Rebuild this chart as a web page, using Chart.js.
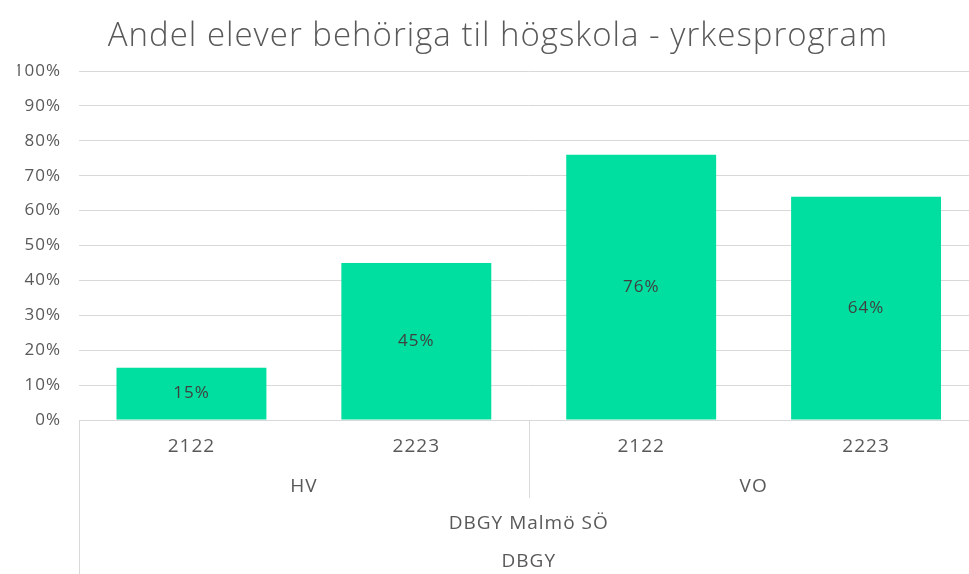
<!DOCTYPE html>
<html>
<head>
<meta charset="utf-8">
<script src="https://cdn.jsdelivr.net/npm/chart.js@4/dist/chart.umd.min.js"></script>
<style>
  html, body { margin: 0; padding: 0; background: #fff; overflow: hidden; }
  #wrap { width: 969px; height: 574px; overflow: hidden; }
  #box { width: 996px; height: 574px; position: relative; }
</style>
</head>
<body>
<div id="wrap"><div id="box"><canvas id="chart"></canvas></div></div>
<script>
// Chart data
const chartTitle = 'Andel elever behöriga til högskola - yrkesprogram';
const years = ['2122', '2223', '2122', '2223'];
const programs = ['HV', 'VO'];
const schools = ['DBGY Malmö SÖ'];
const orgs = ['DBGY'];
const shares = [15, 45, 76, 64];

const FONT = 'Open Sans';
const TEXT = '#595959';
const GRID = '#D9D9D9';

// Century Gothic is wide, so space the letters out a little
const spacing = {
  id: 'spacing',
  beforeDraw(chart) {
    chart.ctx.letterSpacing = '1px';
  }
};

// Draws value labels in the middle of each bar
const barLabels = {
  id: 'barLabels',
  afterDatasetsDraw(chart) {
    const ctx = chart.ctx;
    const meta = chart.getDatasetMeta(0);
    ctx.save();
    ctx.font = '17px "' + FONT + '"';
    ctx.fillStyle = '#404040';
    ctx.textAlign = 'center';
    ctx.textBaseline = 'middle';
    meta.data.forEach((bar, i) => {
      ctx.fillText(shares[i] + '%', bar.x, (bar.y + bar.base) / 2);
    });
    ctx.restore();
  }
};

// Multi-level category axis (year / program / school / org)
const multiAxis = {
  id: 'multiAxis',
  afterDraw(chart) {
    const ctx = chart.ctx;
    const a = chart.chartArea;
    const x = chart.scales.x;
    const w = (a.right - a.left) / years.length;
    const per = years.length / programs.length;
    ctx.save();
    ctx.font = '19px "' + FONT + '"';
    ctx.fillStyle = TEXT;
    ctx.textAlign = 'center';
    ctx.textBaseline = 'middle';
    years.forEach((t, i) => ctx.fillText(t, x.getPixelForValue(i), 447));
    programs.forEach((t, i) => ctx.fillText(t, a.left + w * per * (i + 0.5), 487));
    ctx.fillText(schools[0], (a.left + a.right) / 2, 524);
    ctx.fillText(orgs[0], (a.left + a.right) / 2, 562);

    // separators
    ctx.strokeStyle = GRID;
    ctx.lineWidth = 1;
    ctx.beginPath();
    ctx.moveTo(Math.round(a.left) + 0.5, a.bottom);
    ctx.lineTo(Math.round(a.left) + 0.5, chart.height);
    ctx.moveTo(Math.round(a.right) + 0.5, a.bottom);
    ctx.lineTo(Math.round(a.right) + 0.5, chart.height);
    for (let i = 1; i < programs.length; i++) {
      const px = Math.round(a.left + w * per * i) + 0.5;
      ctx.moveTo(px, a.bottom);
      ctx.lineTo(px, 498);
    }
    ctx.stroke();
    ctx.restore();
  }
};

Chart.defaults.font.family = FONT;
Chart.defaults.color = TEXT;

new Chart(document.getElementById('chart'), {
  type: 'bar',
  data: {
    labels: years,
    datasets: [{
      data: shares,
      backgroundColor: '#00DF9F',
      barPercentage: 2 / 3,
      categoryPercentage: 1,
    }]
  },
  options: {
    responsive: true,
    maintainAspectRatio: false,
    animation: false,
    layout: { padding: { left: 17.5, right: 17.5, top: 0, bottom: 0 } },
    plugins: {
      legend: { display: false },
      tooltip: { enabled: false },
      title: {
        display: true,
        text: chartTitle,
        color: TEXT,
        font: { size: 33, weight: 300, family: FONT },
        padding: { top: 16.5, bottom: 14.9 }
      }
    },
    scales: {
      x: {
        ticks: { display: false },
        grid: { display: false, drawTicks: false },
        border: { color: GRID },
        afterFit(s) { s.height = 154; }
      },
      y: {
        min: 0,
        max: 100,
        ticks: {
          stepSize: 10,
          padding: 18,
          color: TEXT,
          font: { size: 17 },
          callback: v => v + '%'
        },
        grid: { color: GRID, drawTicks: false },
        border: { display: false },
        afterFit(s) { s.width = 61.5; }
      }
    }
  },
  plugins: [spacing, barLabels, multiAxis]
});
</script>
</body>
</html>
